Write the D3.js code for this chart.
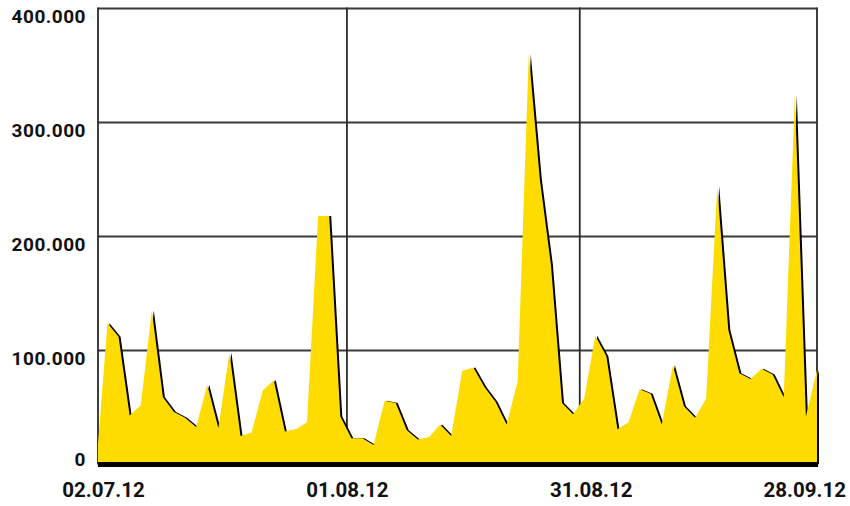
<!DOCTYPE html>
<meta charset="utf-8">
<style>
body { margin: 0; background: #fff; }
text { font-family: Roboto, "Liberation Sans", sans-serif; font-weight: 700; fill: #111; }
</style>
<svg width="850" height="506"></svg>
<script src="https://cdn.jsdelivr.net/npm/d3@7"></script>
<script>

// weekday values, index 0 is the starting zero before 02.07.12
var values = [0,
  124000, 112000, 43000, 52000, 135000, 59000, 46000, 41000, 33000, 70000,
  32000, 98000, 25000, 28000, 65000, 74000, 29000, 31000, 37000, 218000,
  218000, 42000, 23000, 23000, 17000, 56000, 54000, 30000, 22000, 24000,
  35000, 25000, 82000, 85000, 68000, 55000, 35000, 73000, 360000, 250000,
  175000, 54000, 44000, 58000, 113000, 95000, 31000, 37000, 66000, 62000,
  35000, 87000, 51000, 41000, 58000, 244000, 118000, 80000, 75000, 84000,
  79000, 59000, 324000, 42000, 83000];

var xTickIndex = [1, 23, 45, 65];
var xTickLabels = ["02.07.12", "01.08.12", "31.08.12", "28.09.12"];
var yTicks = [0, 100000, 200000, 300000, 400000];
var vGrid = [22.6, 43.6];

var svg = d3.select("svg"),
    plotLeft = 98, plotRight = 817, plotTop = 8.5, plotBottom = 464.5;

var x = d3.scaleLinear().domain([0, values.length - 1]).range([96.4, plotRight]);
var y = d3.scaleLinear().domain([0, 400000]).range([plotBottom, plotTop]);

var de = d3.formatLocale({decimal: ",", thousands: ".", grouping: [3], currency: ["", " €"]});
var fmt = de.format(",d");

// grid
svg.append("g").selectAll("line")
  .data(yTicks.slice(1))
  .enter().append("line")
    .attr("x1", plotLeft).attr("x2", plotRight)
    .attr("y1", function(d) { return y(d); })
    .attr("y2", function(d) { return y(d); })
    .attr("stroke", "#3a3a3a")
    .attr("stroke-width", 1.8);

svg.append("g").selectAll("line")
  .data([plotLeft, plotRight].concat(vGrid.map(x)))
  .enter().append("line")
    .attr("x1", function(d) { return d; })
    .attr("x2", function(d) { return d; })
    .attr("y1", plotTop - 0.9).attr("y2", plotBottom)
    .attr("stroke", "#2a2a2a")
    .attr("stroke-width", 1.8);

var area = d3.area()
    .x(function(d, i) { return x(i); })
    .y0(y(0))
    .y1(function(d) { return y(d); });

var clip = svg.append("clipPath").attr("id", "plot")
  .append("rect")
    .attr("x", plotLeft).attr("y", 0)
    .attr("width", plotRight - plotLeft + 3).attr("height", plotBottom);

var g = svg.append("g").attr("clip-path", "url(#plot)");

// shadow, then the yellow area on top
g.append("path")
    .datum(values)
    .attr("d", area)
    .attr("fill", "#000")
    .attr("transform", "translate(2,0)");

g.append("path")
    .datum(values)
    .attr("d", area)
    .attr("fill", "#ffdc00");

// base line
svg.append("line")
    .attr("x1", plotLeft).attr("x2", plotRight + 1)
    .attr("y1", y(0)).attr("y2", y(0))
    .attr("stroke", "#000")
    .attr("stroke-width", 5);

// y labels
svg.append("g").selectAll("text")
  .data(yTicks)
  .enter().append("text")
    .attr("x", 86)
    .attr("y", function(d) { return d === 0 ? y(d) + 1 : y(d) + 14.5; })
    .attr("text-anchor", "end")
    .style("font-size", "19px")
    .style("letter-spacing", "0.5px")
    .text(function(d) { return fmt(d); });

// x labels
svg.append("g").selectAll("text")
  .data(xTickIndex)
  .enter().append("text")
    .attr("y", 497)
    .attr("text-anchor", "middle")
    .style("font-size", "20.5px")
    .text(function(d, i) { return xTickLabels[i]; })
    .attr("x", function(d) {
      var w = this.getComputedTextLength();
      return Math.min(x(d) - 4, 846 - w / 2);
    });

</script>
